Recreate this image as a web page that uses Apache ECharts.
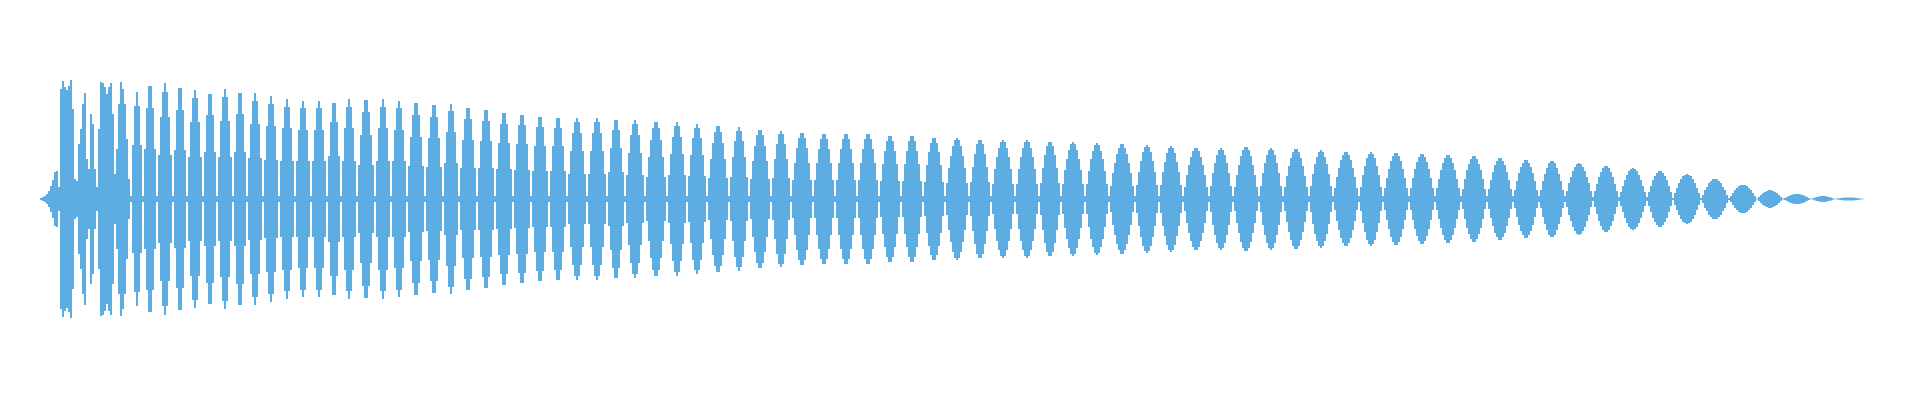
<!DOCTYPE html>
<html>
<head>
<meta charset="utf-8">
<script src="https://cdn.jsdelivr.net/npm/echarts@6/dist/echarts.min.js"></script>
<style>html,body{margin:0;padding:0;background:#fff}#chart{width:1920px;height:400px}</style>
</head>
<body>
<div id="chart"></div>
<script>
// Waveform amplitudes (upper half; the lower half mirrors it).
const ampIntro = [1,2,3,5,8,13,19,27,28,12,110,118,112,109,113,119,90,20,18,55,70,95,106,40,30,85,75,30,12,70,117,116,112,105,112,116,85,25,50,95,117,110,95,60,20];
const ampEarly = [
3,54,93,107,93,54,
3,50,91,113,113,91,50,
3,44,82,107,116,107,82,44,
3,49,89,111,111,89,49,
3,42,77,101,109,101,77,42,
3,47,84,105,105,84,47,
3,42,78,102,110,102,78,42,
3,47,85,106,106,85,47,
3,41,75,98,106,98,75,41,
3,39,73,95,103,95,73,39,
3,38,71,92,100,92,71,38,
3,38,69,91,98,91,69,38,
3,38,69,91,98,91,69,38,
3,43,77,96,96,77,43,
3,38,71,92,100,92,71,38,
3,34,64,87,99,99,87,64,34,
3,38,71,92,100,92,71,38,
3,38,69,91,98,91,69,38,
3,33,62,84,96,96,84,62,33,
3,32,61,82,94,94,82,61,32,
3,36,67,88,95,88,67,36,
3,31,59,80,91,91,80,59,31,
3,31,58,78,89,89,78,58,31,
3,30,56,75,86,86,75,56,30,
3,29,55,74,84,84,74,55,29,
3,28,53,72,82,82,72,53,28,
3,28,53,71,81,81,71,53,28
];
const ampMiddle = [
3,25,48,66,77,81,77,66,48,25,
3,25,48,66,77,81,77,66,48,25,
3,27,51,69,79,79,69,51,27,
3,24,46,64,75,79,75,64,46,24,
3,22,42,59,71,77,77,71,59,42,22,
3,24,45,62,73,77,73,62,45,24,
3,23,44,61,71,75,71,61,44,23,
3,21,40,56,67,73,73,67,56,40,21,
3,22,42,58,68,72,68,58,42,22,
3,20,38,53,64,69,69,64,53,38,20,
3,21,40,55,65,68,65,55,40,21,
3,19,36,51,61,66,66,61,51,36,19,
3,19,36,50,60,65,65,60,50,36,19,
3,19,36,50,60,65,65,60,50,36,19,
3,19,36,50,60,65,65,60,50,36,19,
3,18,35,48,58,63,63,58,48,35,18,
3,18,35,48,58,63,63,58,48,35,18,
3,17,34,47,56,61,61,56,47,34,17,
3,16,31,43,53,59,61,59,53,43,31,16,
3,17,32,45,55,59,59,55,45,32,17,
3,15,30,42,51,57,59,57,51,42,30,15,
3,15,30,42,51,57,59,57,51,42,30,15,
3,16,31,44,53,57,57,53,44,31,16,
3,15,29,40,49,55,57,55,49,40,29,15,
3,15,28,40,48,54,56,54,48,40,28,15,
3,13,26,36,45,51,55,55,51,45,36,26,13,
3,14,27,38,47,52,54,52,47,38,27,14,
3,14,27,37,46,51,53,51,46,37,27,14
];
const ampLate = [
3,12,24,34,42,48,51,51,48,42,34,24,12,
3,13,26,36,44,49,51,49,44,36,26,13,
3,12,24,34,43,49,52,52,49,43,34,24,12,
3,13,26,36,44,49,51,49,44,36,26,13,
3,12,23,33,41,47,50,50,47,41,33,23,12,
3,13,25,35,42,47,49,47,42,35,25,13,
3,11,22,31,39,44,47,47,44,39,31,22,11,
3,12,24,33,41,45,47,45,41,33,24,12,
3,11,21,30,38,43,46,46,43,38,30,21,11,
3,11,21,30,37,42,45,45,42,37,30,21,11,
3,11,20,29,36,41,44,44,41,36,29,20,11,
3,10,20,29,35,40,43,43,40,35,29,20,10,
3,10,19,27,34,38,41,41,38,34,27,19,10,
3,9,18,26,32,36,39,39,36,32,26,18,9,
3,9,18,25,31,36,38,38,36,31,25,18,9
];
const ampTail = [
3,8,16,22,28,32,35,36,35,32,28,22,16,8,
2,8,15,22,27,31,33,33,31,27,22,15,8,
2,7,13,19,24,28,30,31,30,28,24,19,13,7,
2,7,13,19,23,26,28,28,26,23,19,13,7,
1,6,11,16,20,23,24,25,24,23,20,16,11,6,
1,4,9,12,16,18,20,20,20,18,16,12,9,4,
1,3,6,9,11,13,14,14,14,13,11,9,6,3,
0.5,2,4,6,7,8,9,9,8,7,6,4,2,
0.5,1,2,3,4,4.5,5,5,5,4.5,4,3,2,1,
0.3,0.8,1.5,2,2.6,2.9,3,2.9,2.6,2,1.5,0.8,
0.3,0.4,0.7,1,1.2,1.4,1.5,1.6,1.5,1.4,1.2,1,0.7,0.4,0.2
];

const amplitude = [].concat(ampIntro, ampEarly, ampMiddle, ampLate, ampTail);
const categories = amplitude.map((_, i) => i);
const upper = amplitude;
const lower = amplitude.map(v => -v);

const chart = echarts.init(document.getElementById('chart'), null, {renderer: 'canvas'});
chart.setOption({
  animation: false,
  grid: {left: 40, right: 56, top: 59, bottom: 61},
  xAxis: {type: 'category', data: categories, show: false, boundaryGap: true},
  yAxis: {type: 'value', min: -140, max: 140, show: false},
  series: [
    {type: 'bar', data: upper, barGap: '-100%', barCategoryGap: '0%', itemStyle: {color: '#5dade2'}},
    {type: 'bar', data: lower, barGap: '-100%', barCategoryGap: '0%', itemStyle: {color: '#5dade2'}}
  ]
});
</script>
</body>
</html>
